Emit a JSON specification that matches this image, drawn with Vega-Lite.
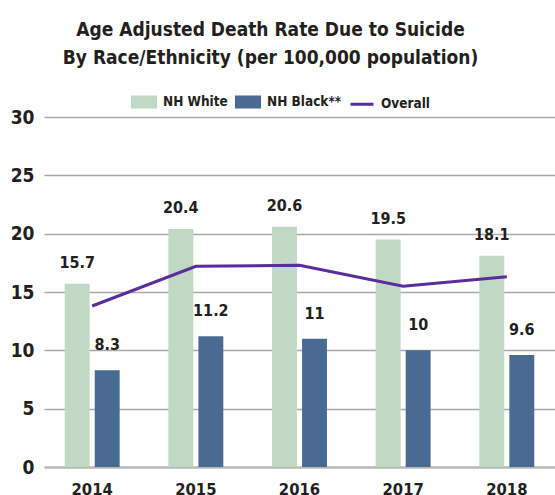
{
  "$schema": "https://vega.github.io/schema/vega-lite/v6.json",
  "autosize": {"type": "none"},
  "width": 511,
  "height": 350,
  "padding": {"left": 44, "top": 117, "right": 0, "bottom": 28},
  "background": "white",
  "config": {
    "view": {"stroke": null},
    "font": "DejaVu Sans Condensed"
  },
  "title": {
    "text": ["Age Adjusted Death Rate Due to Suicide", "By Race/Ethnicity (per 100,000 population)"],
    "font": "DejaVu Sans Condensed",
    "fontSize": 19,
    "fontWeight": "bold",
    "color": "#231f20",
    "lineHeight": 28,
    "anchor": "middle",
    "dx": -29,
    "offset": 21
  },
  "data": {
    "values": [
      {"year": "2014", "group": "NH White", "value": 15.7},
      {"year": "2015", "group": "NH White", "value": 20.4},
      {"year": "2016", "group": "NH White", "value": 20.6},
      {"year": "2017", "group": "NH White", "value": 19.5},
      {"year": "2018", "group": "NH White", "value": 18.1},
      {"year": "2014", "group": "NH Black**", "value": 8.3},
      {"year": "2015", "group": "NH Black**", "value": 11.2},
      {"year": "2016", "group": "NH Black**", "value": 11},
      {"year": "2017", "group": "NH Black**", "value": 10},
      {"year": "2018", "group": "NH Black**", "value": 9.6},
      {"year": "2014", "group": "Overall", "value": 13.8},
      {"year": "2015", "group": "Overall", "value": 17.2},
      {"year": "2016", "group": "Overall", "value": 17.3},
      {"year": "2017", "group": "Overall", "value": 15.5},
      {"year": "2018", "group": "Overall", "value": 16.3}
    ]
  },
  "encoding": {
    "x": {
      "field": "year",
      "type": "nominal",
      "scale": {"paddingInner": 0.47, "paddingOuter": 0.2},
      "axis": {
        "title": null,
        "labelAngle": 0,
        "labelFont": "DejaVu Sans Condensed",
        "labelFontSize": 16.5,
        "labelFontWeight": "bold",
        "labelColor": "#231f20",
        "labelPadding": 14,
        "domain": false,
        "ticks": false
      }
    },
    "y": {
      "field": "value",
      "type": "quantitative",
      "scale": {"domain": [0, 30]},
      "axis": {
        "title": null,
        "values": [0, 5, 10, 15, 20, 25, 30],
        "labelFont": "DejaVu Sans Condensed",
        "labelFontSize": 19,
        "labelFontWeight": "bold",
        "labelColor": "#231f20",
        "labelPadding": 10,
        "domain": false,
        "ticks": false,
        "grid": true,
        "gridColor": {"condition": {"test": "datum.value === 0", "value": "#b8b8b8"}, "value": "#a8a8a8"},
        "gridWidth": {"condition": {"test": "datum.value === 0", "value": 2.5}, "value": 1.4}
      }
    }
  },
  "layer": [
    {
      "transform": [{"filter": "datum.group !== 'Overall'"}],
      "mark": {"type": "bar"},
      "encoding": {
        "xOffset": {
          "field": "group",
          "type": "nominal",
          "sort": ["NH White", "NH Black**"],
          "scale": {"paddingInner": 0.17}
        },
        "color": {
          "field": "group",
          "type": "nominal",
          "scale": {
            "domain": ["NH White", "NH Black**", "Overall"],
            "range": ["#c0d9c4", "#4a6b91", "#5a2d9a"]
          },
          "legend": {
            "title": null,
            "orient": "none",
            "direction": "horizontal",
            "legendX": 87,
            "legendY": -28,
            "labelFont": "DejaVu Sans Condensed",
            "labelFontSize": 13.5,
            "labelFontWeight": "bold",
            "labelColor": "#231f20",
            "labelOffset": 6,
            "columnPadding": 2,
            "symbolSize": 529,
            "encode": {
              "symbols": {
                "update": {
                  "shape": {"signal": "datum.value === 'Overall' ? 'M-1,0H1' : 'M-1,-0.43H1V0.43H-1Z'"},
                  "fill": {"signal": "datum.value === 'Overall' ? 'transparent' : scale('color', datum.value)"},
                  "stroke": {"signal": "datum.value === 'Overall' ? scale('color', datum.value) : 'transparent'"},
                  "strokeWidth": {"value": 3},
                  "opacity": {"value": 1}
                }
              }
            }
          }
        }
      }
    },
    {
      "transform": [{"filter": "datum.group === 'NH White'"}],
      "mark": {"type": "text", "baseline": "bottom", "dy": -13, "fontSize": 16, "fontWeight": "bold", "color": "#231f20", "font": "DejaVu Sans Condensed"},
      "encoding": {
        "xOffset": {"field": "group", "type": "nominal", "sort": ["NH White", "NH Black**"], "scale": {"domain": ["NH White", "NH Black**"], "paddingInner": 0.17}},
        "text": {"field": "value", "type": "quantitative"}
      }
    },
    {
      "transform": [{"filter": "datum.group === 'NH Black**'"}],
      "mark": {"type": "text", "baseline": "bottom", "dy": -17, "fontSize": 16, "fontWeight": "bold", "color": "#231f20", "font": "DejaVu Sans Condensed"},
      "encoding": {
        "xOffset": {"field": "group", "type": "nominal", "sort": ["NH White", "NH Black**"], "scale": {"domain": ["NH White", "NH Black**"], "paddingInner": 0.17}},
        "text": {"field": "value", "type": "quantitative"}
      }
    },
    {
      "transform": [{"filter": "datum.group === 'Overall'"}],
      "mark": {"type": "line", "strokeWidth": 3},
      "encoding": {
        "color": {"field": "group", "type": "nominal", "legend": null}
      }
    }
  ]
}
